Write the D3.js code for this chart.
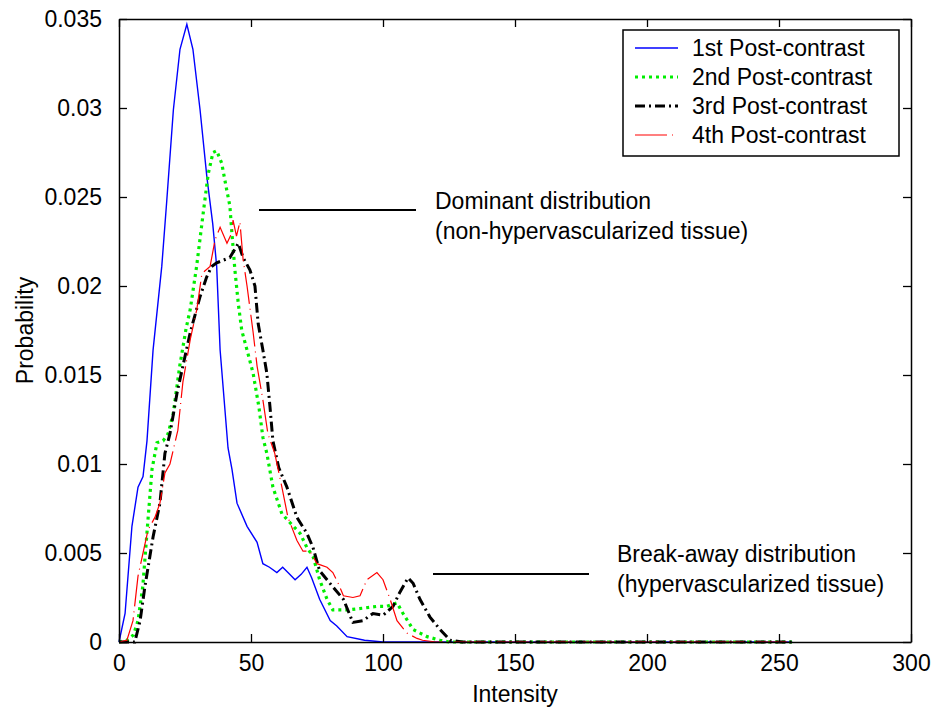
<!DOCTYPE html>
<html>
  <head>
    <title></title>
    <style type="text/css">
        html, body{
            padding: 0px;
            margin: 0px;
            background: #fff;
        }
        text{
            font-family: "Liberation Sans", Arial, sans-serif;
            fill: #000;
        }
    </style>
  </head>
  <body>
    <div id="vis"></div>
    <script src="https://cdnjs.cloudflare.com/ajax/libs/d3/7.8.5/d3.min.js"></script>
    <script type="text/javascript">

        // values: [intensity, probability]
        var post1 = [[0,0],[2.3,0.0016],[4.9,0.0065],[7.2,0.0087],[9.1,0.0093],[10.6,0.0113],[12.9,0.0164],
            [16.2,0.0211],[18.1,0.0248],[20.6,0.0299],[23.1,0.0333],[25.7,0.0347],[28,0.0333],[30.7,0.0299],
            [33.3,0.0261],[35.5,0.0235],[37,0.0211],[38.3,0.0164],[41.3,0.0109],[42.8,0.0097],[44.7,0.0078],
            [48.5,0.0065],[52.3,0.0056],[54.5,0.0044],[57,0.0042],[59.8,0.0039],[62,0.0042],[64,0.0039],
            [66.7,0.0035],[69,0.0038],[71.2,0.0042],[73,0.0036],[76,0.0024],[80,0.0012],[82.5,0.0009],
            [86.4,0.0003],[93,0.0001],[100,0],[255,0]];
        var post2 = [[0,0],[3,0.0001],[5.5,0.0004],[7.2,0.0012],[9,0.0031],[11,0.0069],[12.5,0.0097],
            [14.4,0.0112],[16.7,0.0113],[18.6,0.0117],[20.5,0.0128],[23,0.0155],[25.4,0.0176],[27,0.0187],
            [29.4,0.0211],[31.9,0.0241],[33.8,0.0263],[35.6,0.0275],[37,0.0276],[38.9,0.0269],[40.8,0.0254],
            [42,0.0245],[42.7,0.0231],[43.9,0.0209],[45.2,0.019],[46.5,0.0175],[48.5,0.0164],[50.8,0.0151],
            [53,0.0132],[54.5,0.0115],[56,0.0106],[58.3,0.0087],[61.7,0.0072],[64.8,0.0067],[68.6,0.0061],
            [71.2,0.0053],[73.5,0.0048],[76,0.0035],[78.8,0.0024],[81,0.0018],[86.4,0.0018],[92.4,0.0019],
            [97.7,0.002],[101.5,0.002],[105.3,0.0022],[107.6,0.0016],[111.4,0.0007],[116.7,0.0003],
            [121.6,0.0001],[125,0],[255,0]];
        var post3 = [[0,0],[6,0],[8,0.0012],[9.8,0.0031],[12.9,0.0059],[15.5,0.0078],[17.4,0.0106],
            [19.3,0.0117],[22,0.014],[24.2,0.0155],[27,0.0174],[30.7,0.0194],[33.2,0.0205],[35.1,0.0211],
            [37,0.0213],[42,0.0216],[45.2,0.0224],[47,0.0216],[49.6,0.0209],[51.5,0.02],[52.7,0.0179],
            [54.5,0.0164],[56,0.0151],[57.2,0.0132],[58.3,0.0113],[60.5,0.0098],[63.6,0.0087],[67.4,0.007],
            [71.2,0.0061],[73.5,0.0053],[76,0.004],[81,0.0031],[85,0.0024],[88.6,0.0011],[92.4,0.0012],
            [96.2,0.0016],[100,0.0015],[103.8,0.002],[106.4,0.0028],[109.5,0.0036],[111.4,0.0033],
            [114,0.0024],[117.8,0.0014],[121.6,0.0007],[125.4,0.0001],[130,0],[255,0]];
        var post4 = [[0,0],[3,0.0001],[5.3,0.0012],[7.2,0.0037],[9.1,0.005],[11,0.0063],[13.6,0.007],
            [15.5,0.0078],[17.4,0.0095],[19.3,0.01],[21.2,0.0112],[22.3,0.0119],[24.2,0.0146],[27,0.017],
            [29.5,0.0187],[31.4,0.0207],[34.5,0.0211],[36.4,0.0226],[38.3,0.0233],[40.9,0.0224],[42.8,0.023],
            [43.2,0.0237],[44.5,0.0228],[45.8,0.0236],[47,0.0215],[48.5,0.02],[50.8,0.0174],[52.3,0.0155],
            [54.5,0.0136],[56.4,0.0117],[59,0.0106],[61.7,0.0087],[64,0.007],[67.4,0.0057],[69.7,0.0051],
            [72.3,0.0051],[75,0.0044],[78.8,0.0042],[81,0.0039],[83,0.0033],[85,0.0026],[88.6,0.0025],
            [91.3,0.0026],[93.9,0.0035],[97.7,0.0039],[100,0.0035],[102.7,0.0024],[105.3,0.0012],
            [109,0.0005],[112.9,0.0002],[115,0.0001],[120,0],[255,0]];

        var seriesNames = ["1st Post-contrast", "2nd Post-contrast", "3rd Post-contrast", "4th Post-contrast"];
        var xTicks = [0, 50, 100, 150, 200, 250, 300];
        var yTicks = [0, 0.005, 0.01, 0.015, 0.02, 0.025, 0.03, 0.035];
        var yTickLabels = ["0", "0.005", "0.01", "0.015", "0.02", "0.025", "0.03", "0.035"];

        var styles = [
            {color: "#0000ff", width: 1.4, dash: null},
            {color: "#00ee00", width: 3.2, dash: "3,4"},
            {color: "#000000", width: 3, dash: "10,4,2,4"},
            {color: "#ff0000", width: 1.2, dash: "32,5,1,5"}
        ];
        var series = [post1, post2, post3, post4];

        var width = 933, height = 711;
        var plotLeft = 119, plotRight = 911, plotTop = 19, plotBottom = 642;

        var svg = d3.select("#vis").append("svg")
            .attr("width", width)
            .attr("height", height);

        var x = d3.scaleLinear().domain([0, 300]).range([plotLeft, plotRight]);
        var y = d3.scaleLinear().domain([0, 0.035]).range([plotBottom, plotTop]);

        var fs = "23px";

        // curves
        var line = d3.line()
            .x(d => x(d[0]))
            .y(d => y(d[1]));

        series.forEach((s, i) => {
            svg.append("path")
                .datum(s)
                .attr("d", line)
                .attr("fill", "none")
                .attr("stroke", styles[i].color)
                .attr("stroke-width", styles[i].width)
                .attr("stroke-dasharray", styles[i].dash);
        });

        // box + inward ticks on all sides
        var xb = svg.append("g").attr("transform", "translate(0," + plotBottom + ")")
            .call(d3.axisBottom(x).tickValues(xTicks).tickSize(-8).tickSizeOuter(0).tickPadding(13));
        var xt = svg.append("g").attr("transform", "translate(0," + plotTop + ")")
            .call(d3.axisTop(x).tickValues(xTicks).tickSize(-8).tickSizeOuter(0).tickFormat(""));
        var yl = svg.append("g").attr("transform", "translate(" + plotLeft + ",0)")
            .call(d3.axisLeft(y).tickValues(yTicks).tickSize(-8).tickSizeOuter(0).tickPadding(17)
                .tickFormat((d, i) => yTickLabels[i]));
        var yr = svg.append("g").attr("transform", "translate(" + plotRight + ",0)")
            .call(d3.axisRight(y).tickValues(yTicks).tickSize(-8).tickSizeOuter(0).tickFormat(""));

        [xb, xt, yl, yr].forEach(g => {
            g.selectAll("path.domain").attr("stroke", "#000").attr("stroke-width", 1.5);
            g.selectAll(".tick line").attr("stroke", "#000").attr("stroke-width", 1.3);
            g.selectAll(".tick text").style("font-size", fs).attr("fill", "#000");
        });

        svg.append("text")
            .attr("x", (plotLeft + plotRight) / 2)
            .attr("y", 702)
            .attr("text-anchor", "middle")
            .style("font-size", fs)
            .text("Intensity");

        svg.append("text")
            .attr("transform", "translate(33," + ((plotTop + plotBottom) / 2) + ") rotate(-90)")
            .attr("text-anchor", "middle")
            .style("font-size", fs)
            .text("Probability");

        // annotations
        svg.append("line")
            .attr("x1", 259).attr("x2", 416).attr("y1", 210).attr("y2", 210)
            .attr("stroke", "#000").attr("stroke-width", 2);
        svg.append("text").attr("x", 435).attr("y", 209).style("font-size", fs)
            .text("Dominant distribution");
        svg.append("text").attr("x", 435).attr("y", 239).style("font-size", fs)
            .text("(non-hypervascularized tissue)");

        svg.append("line")
            .attr("x1", 433).attr("x2", 589).attr("y1", 574).attr("y2", 574)
            .attr("stroke", "#000").attr("stroke-width", 2);
        svg.append("text").attr("x", 617).attr("y", 562).style("font-size", fs)
            .text("Break-away distribution");
        svg.append("text").attr("x", 617).attr("y", 592).style("font-size", fs)
            .text("(hypervascularized tissue)");

        // legend
        var legend = svg.append("g");
        legend.append("rect")
            .attr("x", 623).attr("y", 30).attr("width", 276).attr("height", 126)
            .attr("fill", "#fff").attr("stroke", "#000").attr("stroke-width", 1.5);

        seriesNames.forEach((name, i) => {
            var cy = 48 + i * 29;
            legend.append("line")
                .attr("x1", 635).attr("x2", 678).attr("y1", cy).attr("y2", cy)
                .attr("stroke", styles[i].color)
                .attr("stroke-width", styles[i].width)
                .attr("stroke-dasharray", styles[i].dash);
            legend.append("text")
                .attr("x", 692).attr("y", cy + 8)
                .style("font-size", fs)
                .text(name);
        });

    </script>
  </body>
</html>
